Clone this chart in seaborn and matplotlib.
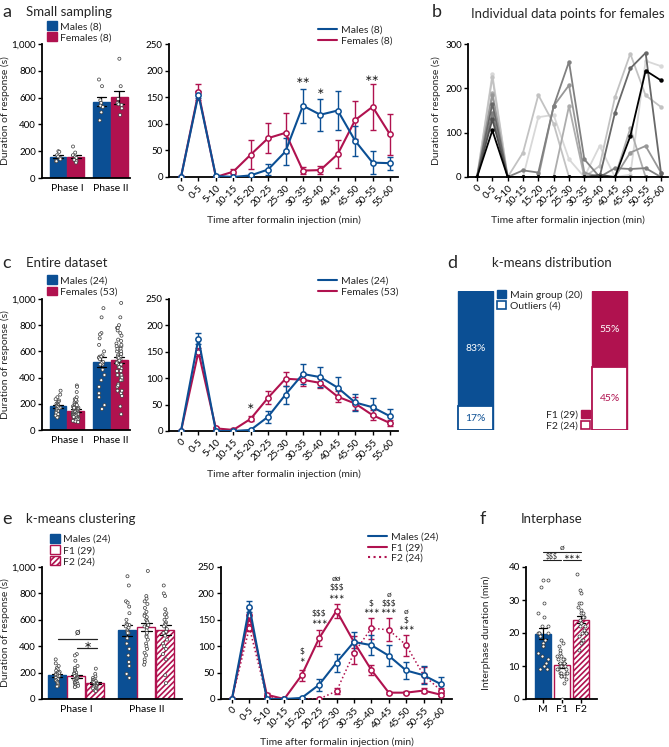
import matplotlib
matplotlib.use('Agg')
import matplotlib.pyplot as plt
from matplotlib.patches import Patch
from matplotlib.lines import Line2D
import numpy as np
import pandas as pd
import seaborn as sns

BLUE = '#0b4f94'
RED = '#b0124f'

# ---------------- data ----------------
time_bins = ['0', '0-5', '5-10', '10-15', '15-20', '20-25', '25-30',
             '30-35', '35-40', '40-45', '45-50', '50-55', '55-60']
phases = ['Phase I', 'Phase II']

# a - small sampling, bars (individual animals)
a_males_I = [200, 195, 170, 160, 150, 140, 125, 125]
a_females_I = [235, 190, 170, 160, 150, 135, 125, 115]
a_males_II = [735, 685, 580, 560, 540, 530, 490, 430]
a_females_II = [890, 685, 590, 560, 550, 545, 520, 470]

# a - small sampling, time course (mean, sem)
a_male_mean = [0, 155, 2, 0, 3, 14, 48, 134, 117, 125, 68, 27, 26]
a_male_sem = [0, 6, 2, 0, 2, 11, 26, 32, 30, 36, 28, 22, 12]
a_female_mean = [0, 159, 0, 10, 42, 73, 83, 12, 13, 43, 107, 132, 80]
a_female_sem = [0, 15, 0, 5, 27, 28, 38, 6, 8, 27, 36, 43, 38]

# b - individual females
b_females = [
    [0, 232, 0, 0, 135, 140, 40, 0, 70, 0, 5, 262, 250],
    [0, 225, 0, 55, 185, 120, 0, 0, 25, 180, 278, 184, 158],
    [0, 190, 0, 0, 0, 0, 160, 0, 0, 0, 110, 0, 0],
    [0, 185, 0, 0, 0, 160, 207, 10, 0, 0, 55, 70, 10],
    [0, 145, 0, 15, 10, 160, 260, 40, 0, 20, 18, 20, 0],
    [0, 165, 0, 0, 0, 0, 0, 0, 0, 145, 245, 280, 10],
    [0, 130, 0, 0, 0, 0, 0, 0, 5, 0, 0, 0, 0],
    [0, 105, 0, 0, 0, 0, 0, 0, 0, 0, 92, 240, 218],
]
b_shades = ['#d8d8d8', '#c2c2c2', '#adadad', '#979797', '#808080', '#686868', '#505050', '#000000']

# c / e - entire dataset, individual animals
males_I = [300, 270, 250, 235, 225, 215, 205, 200, 195, 190, 185, 180,
           175, 170, 165, 160, 150, 145, 140, 130, 120, 110, 100, 95]
males_II = [930, 860, 740, 730, 700, 650, 600, 570, 560, 560, 550, 540,
            520, 500, 510, 500, 460, 420, 380, 330, 280, 250, 190, 160]
f1_I = [340, 330, 290, 250, 235, 220, 210, 200, 195, 190, 180, 175, 170, 165, 160,
        155, 150, 145, 140, 135, 130, 125, 120, 115, 110, 105, 100, 95, 90]
f1_II = [970, 780, 760, 740, 720, 690, 660, 640, 630, 620, 600, 590, 580, 560, 550,
         540, 520, 500, 480, 470, 450, 420, 400, 380, 350, 330, 300, 280, 260]
f2_I = [230, 190, 170, 160, 150, 145, 140, 135, 130, 125, 120, 115,
        110, 105, 100, 100, 95, 90, 85, 80, 75, 70, 65, 60]
f2_II = [860, 800, 780, 680, 650, 640, 620, 600, 580, 570, 560, 550,
         530, 510, 500, 480, 450, 420, 400, 380, 340, 300, 180, 120]

# c / e - time course (mean, sem)
male_mean = [0, 175, 0, 0, 2, 27, 69, 108, 102, 82, 54, 45, 28]
male_sem = [0, 10, 0, 0, 1, 11, 17, 19, 19, 20, 17, 17, 13]
female_mean = [0, 150, 5, 2, 23, 63, 99, 97, 91, 65, 52, 30, 15]
female_sem = [0, 8, 2, 1, 5, 12, 13, 11, 9, 11, 12, 10, 6]
f1_mean = [0, 160, 8, 0, 45, 115, 167, 108, 55, 12, 12, 16, 8]
f1_sem = [0, 12, 3, 0, 10, 15, 13, 12, 10, 2, 3, 5, 3]
f2_mean = [0, 135, 3, 0, 0, 0, 15, 87, 134, 131, 102, 45, 16]
f2_sem = [0, 7, 2, 0, 0, 0, 6, 20, 20, 22, 20, 15, 5]

# d - k-means distribution (%)
d_males = {'Main group (20)': 83, 'Outliers (4)': 17}
d_females = {'F1 (29)': 55, 'F2 (24)': 45}

# f - interphase duration (min)
f_m = [36, 36, 34, 29, 26, 25, 22, 22, 20, 20, 20, 20, 19, 18, 17, 16, 16, 14, 13, 12, 11, 10, 9, 9]
f_f1 = [18, 17, 16, 15, 14, 13, 13, 12, 12, 12, 11, 11, 11, 10, 10, 10, 9, 9, 9, 8,
        8, 8, 8, 7, 7, 7, 6, 5, 0]
f_f2 = [38, 33, 32, 29, 29, 28, 27, 26, 26, 25, 25, 24, 23, 22, 22, 21, 20, 20, 20, 19, 18, 18, 17, 15]

# ---------------- figure ----------------
sns.set_theme(style='ticks')
plt.rcParams['font.family'] = ['Lato', 'DejaVu Sans']
plt.rcParams['hatch.linewidth'] = 1.2
W, H = 669, 747
fig = plt.figure(figsize=(W / 100, H / 100), dpi=100)
np.random.seed(3)

STYLES = {
    'Males': dict(fc=BLUE, ec=BLUE, hatch=None),
    'Females': dict(fc=RED, ec=RED, hatch=None),
    'F1': dict(fc='white', ec=RED, hatch=None),
    'F2': dict(fc='white', ec=RED, hatch='//////'),
}
STAR_FONT = ['DejaVu Sans']


def add_ax(x0, y0, x1, y1):
    return fig.add_axes([x0 / W, 1 - y1 / H, (x1 - x0) / W, (y1 - y0) / H])


def style(ax):
    sns.despine(ax=ax)
    for s in ['left', 'bottom']:
        ax.spines[s].set_linewidth(1.3)
        ax.spines[s].set_color('black')
    ax.tick_params(width=1, length=3, labelsize=7, pad=1.5, colors='black')
    ax.set_xlabel('')
    ax.set_ylabel('')


def long_frame(groups):
    rows = []
    for g, (p1, p2) in groups.items():
        rows += [(g, 'Phase I', v) for v in p1] + [(g, 'Phase II', v) for v in p2]
    return pd.DataFrame(rows, columns=['group', 'phase', 'value'])


def bar_panel(ax, groups, labels, jitter, legend_y):
    df = long_frame(groups)
    order = list(groups)
    sns.barplot(data=df, x='phase', y='value', hue='group', order=phases, hue_order=order,
                palette={g: STYLES[g]['fc'] for g in order}, errorbar='se', capsize=0.45,
                err_kws={'color': 'black', 'linewidth': 0.9}, saturation=1, width=0.82,
                gap=0.06, legend=False, ax=ax)
    for cont, g in zip(ax.containers, order):
        for p in cont:
            p.set_facecolor(STYLES[g]['fc'])
            p.set_edgecolor(STYLES[g]['ec'])
            p.set_linewidth(1.0)
            if STYLES[g]['hatch']:
                p.set_hatch(STYLES[g]['hatch'])
    sns.stripplot(data=df, x='phase', y='value', hue='group', order=phases, hue_order=order,
                  dodge=True, palette={g: 'white' for g in order}, edgecolor='#3a3a3a',
                  linewidth=0.5, size=2.2, jitter=jitter, legend=False, ax=ax, zorder=4)
    style(ax)
    ax.set_ylim(0, 1000)
    ax.set_yticks(range(0, 1001, 200))
    ax.set_yticklabels(['0', '200', '400', '600', '800', '1,000'])
    ax.tick_params(axis='x', length=0, labelsize=7.5, pad=4)
    ax.set_ylabel('Duration of response (s)', fontsize=7.5)
    handles = [Patch(facecolor=STYLES[g]['fc'], edgecolor=STYLES[g]['ec'],
                     hatch=STYLES[g]['hatch'], linewidth=1) for g in order]
    ax.legend(handles, labels, loc='upper left', bbox_to_anchor=(0.06, legend_y), frameon=False,
              fontsize=7.5, handlelength=0.9, handleheight=0.9, handletextpad=0.3,
              labelspacing=0.12, borderpad=0, borderaxespad=0)


def line_series(ax, mean, sem, color, ls='-', lw=1.5):
    x = np.arange(len(mean))
    ax.errorbar(x, mean, yerr=sem, fmt='none', ecolor=color, elinewidth=1, capsize=2.5,
                capthick=1, zorder=2)
    sns.lineplot(x=x, y=mean, color=color, linestyle=ls, linewidth=lw, marker='o',
                 markersize=3.8, markerfacecolor='white', markeredgecolor=color,
                 markeredgewidth=1.1, ax=ax, zorder=3)


def line_axes(ax, ymax, step, xlabel=True):
    style(ax)
    ax.set_ylim(0, ymax)
    ax.set_yticks(range(0, ymax + 1, step))
    ax.set_xticks(range(len(time_bins)))
    ax.set_xticklabels(time_bins, rotation=45, ha='right', rotation_mode='anchor', fontsize=7)
    if xlabel:
        ax.set_xlabel('Time after formalin injection (min)', fontsize=7.5, labelpad=5)


def line_legend(ax, entries, x, y):
    handles = [Line2D([], [], color=c, lw=1.5, ls=ls) for c, ls in entries.values()]
    ax.legend(handles, list(entries), loc='upper left', bbox_to_anchor=(x, y), frameon=False,
              fontsize=7.5, handlelength=1.8, handletextpad=0.4, labelspacing=0.12,
              borderpad=0, borderaxespad=0)


def stars(ax, marks, size=6, sym_size=6.5):
    for x, txt, y in marks:
        if '*' in txt:
            ax.text(x, y, txt.replace('*', '\u2217'), ha='center', va='center', fontsize=size,
                    color='#222222', family=STAR_FONT)
        else:
            ax.text(x, y, txt, ha='center', va='center', fontsize=sym_size, color='#222222')


# ---------- a ----------
ax = add_ax(42, 44, 130, 178)
bar_panel(ax, {'Males': (a_males_I, a_males_II), 'Females': (a_females_I, a_females_II)},
          ['Males (8)', 'Females (8)'], 0.13, 1.17)
ax.set_xlim(-0.57, 1.45)
ax.yaxis.set_label_coords(-0.36, 0.5)

ax = add_ax(169, 44, 398, 177)
line_series(ax, a_female_mean, a_female_sem, RED)
line_series(ax, a_male_mean, a_male_sem, BLUE)
line_axes(ax, 250, 50)
ax.set_xlim(-0.69, 12.46)
stars(ax, [(7, '**', 181), (8, '*', 160), (11, '**', 186)], size=6.5)
line_legend(ax, {'Males (8)': (BLUE, '-'), 'Females (8)': (RED, '-')}, 0.65, 1.14)

# ---------- b ----------
ax = add_ax(468, 44, 668, 177)
for vals, shade in zip(b_females, b_shades):
    sns.lineplot(x=np.arange(len(vals)), y=vals, color=shade, linewidth=1.3, marker='o',
                 markersize=3.2, markeredgewidth=0, ax=ax)
line_axes(ax, 300, 100)
ax.set_xlim(-0.59, 12.46)
ax.set_ylabel('Duration of response (s)', fontsize=7.5)
ax.yaxis.set_label_coords(-0.135, 0.5)

# ---------- c ----------
ax = add_ax(42, 299, 130, 430)
bar_panel(ax, {'Males': (males_I, males_II), 'Females': (f1_I + f2_I, f1_II + f2_II)},
          ['Males (24)', 'Females (53)'], 0.14, 1.18)
ax.set_xlim(-0.57, 1.45)
ax.yaxis.set_label_coords(-0.36, 0.5)

ax = add_ax(169, 299, 398, 431)
line_series(ax, female_mean, female_sem, RED)
line_series(ax, male_mean, male_sem, BLUE)
line_axes(ax, 250, 50)
ax.set_xlim(-0.69, 12.46)
stars(ax, [(4, '*', 46)], size=6.5)
line_legend(ax, {'Males (24)': (BLUE, '-'), 'Females (53)': (RED, '-')}, 0.65, 1.17)

# ---------- d ----------
ax = add_ax(440, 291, 669, 430)
tops = [sum(d_males.values()), sum(d_females.values())]
bottoms = [list(d_males.values())[1], list(d_females.values())[1]]
sns.barplot(x=['M', 'F'], y=tops, hue=['M', 'F'], palette=[BLUE, RED], saturation=1,
            width=0.26, legend=False, ax=ax)
sns.barplot(x=['M', 'F'], y=bottoms, color='white', saturation=1, width=0.26, ax=ax)
for p, c in zip(ax.patches[:2], [BLUE, RED]):
    p.set_edgecolor(c)
    p.set_linewidth(1)
for p, c in zip(ax.patches[2:], [BLUE, RED]):
    p.set_edgecolor(c)
    p.set_linewidth(1.3)
ax.set_xlim(-0.264, 1.44)
ax.set_ylim(0, 100)
ax.axis('off')
for i, (grp, top_c, low_c) in enumerate([(d_males, 'white', BLUE), (d_females, 'white', RED)]):
    top, low = list(grp.values())
    ax.text(i, low + top / 2, f'{top}%', ha='center', va='center', color=top_c, fontsize=7.5)
    ax.text(i, low / 2, f'{low}%', ha='center', va='center', color=low_c, fontsize=7.5)
leg1 = ax.legend([Patch(facecolor=BLUE, edgecolor=BLUE), Patch(facecolor='white', edgecolor=BLUE, linewidth=1.2)],
                 list(d_males), loc='upper left', bbox_to_anchor=((497 - 440) / 229, 1.01),
                 frameon=False, fontsize=7.5, handlelength=0.9, handleheight=0.9,
                 handletextpad=0.3, labelspacing=0.12, borderpad=0, borderaxespad=0)
ax.add_artist(leg1)
ax.legend([Patch(facecolor=RED, edgecolor=RED), Patch(facecolor='white', edgecolor=RED, linewidth=1.2)],
          list(d_females), loc='lower right', bbox_to_anchor=((590 - 440) / 229, -0.005),
          frameon=False, fontsize=7.5, handlelength=0.9, handleheight=0.9, markerfirst=False,
          handletextpad=0.3, labelspacing=0.12, borderpad=0, borderaxespad=0)

# ---------- e ----------
ax = add_ax(42, 567, 182, 699)
bar_panel(ax, {'Males': (males_I, males_II), 'F1': (f1_I, f1_II), 'F2': (f2_I, f2_II)},
          ['Males (24)', 'F1 (29)', 'F2 (24)'], 0.09, 1.25)
ax.set_xlim(-0.49, 1.51)
ax.yaxis.set_label_coords(-0.23, 0.5)
ax.plot([-0.26, 0.3], [455, 455], color='#222222', lw=0.9)
ax.plot([0.01, 0.3], [386, 386], color='#222222', lw=0.9)
ax.text(0.02, 465, 'ø', ha='center', va='bottom', fontsize=7)
stars(ax, [(0.16, '*', 408)], size=7)

ax = add_ax(221, 567, 452, 699)
line_series(ax, f2_mean, f2_sem, RED, ls=':', lw=1.1)
line_series(ax, f1_mean, f1_sem, RED)
line_series(ax, male_mean, male_sem, BLUE)
line_axes(ax, 250, 50)
ax.set_xlim(-0.63, 12.63)
stars(ax, [(4, '$', 90), (4, '*', 73), (5, '$$$', 162), (5, '***', 145),
           (6, 'øø', 228), (6, '$$$', 211), (6, '***', 194), (8, '$', 182), (8, '***', 166),
           (9, 'ø', 198), (9, '$$$', 182), (9, '***', 166), (10, 'ø', 166), (10, '$', 150),
           (10, '***', 134)], size=4.8, sym_size=6)
line_legend(ax, {'Males (24)': (BLUE, '-'), 'F1 (29)': (RED, '-'), 'F2 (24)': (RED, ':')},
            0.636, 1.26)

# ---------- f ----------
ax = add_ax(526, 567, 597, 699)
fdf = pd.DataFrame({'group': ['M'] * len(f_m) + ['F1'] * len(f_f1) + ['F2'] * len(f_f2),
                    'value': f_m + f_f1 + f_f2})
sns.barplot(data=fdf, x='group', y='value', hue='group', order=['M', 'F1', 'F2'],
            palette=[BLUE, 'white', 'white'], errorbar='se', capsize=0.45,
            err_kws={'color': 'black', 'linewidth': 0.9}, saturation=1, width=0.84,
            legend=False, ax=ax)
for p, g in zip(ax.patches, ['Males', 'F1', 'F2']):
    p.set_facecolor(STYLES[g]['fc'])
    p.set_edgecolor(STYLES[g]['ec'])
    p.set_linewidth(1)
    if STYLES[g]['hatch']:
        p.set_hatch(STYLES[g]['hatch'])
sns.stripplot(data=fdf, x='group', y='value', order=['M', 'F1', 'F2'], color='white',
              edgecolor='#3a3a3a', linewidth=0.5, size=2.2, jitter=0.28, ax=ax, zorder=4)
style(ax)
ax.set_xlim(-0.89, 2.84)
ax.set_ylim(0, 40)
ax.set_yticks(range(0, 41, 10))
ax.tick_params(axis='x', labelsize=7.5)
ax.set_ylabel('Interphase duration (min)', fontsize=7.5)
ax.yaxis.set_label_coords(-0.49, 0.5)
for xs, y in [((0, 2), 44.5), ((0, 0.95), 42), ((1.05, 2), 42)]:
    ax.plot(xs, [y, y], color='#222222', lw=0.8, clip_on=False)
ax.text(1, 44.8, 'ø', ha='center', va='bottom', fontsize=6)
ax.text(0.48, 42.2, '$$$', ha='center', va='bottom', fontsize=5)
ax.text(1.52, 43.1, '\u2217\u2217\u2217', ha='center', va='center', fontsize=5,
        family=STAR_FONT)

# ---------- panel letters & titles ----------
for x, y, t in [(2, 12, 'a'), (432, 12, 'b'), (2, 263, 'c'), (447, 263, 'd'),
                (2, 519, 'e'), (480, 519, 'f')]:
    fig.text(x / W, 1 - y / H, t, fontsize=13, va='center', ha='left')
for x, y, t, ha in [(26, 12, 'Small sampling', 'left'),
                    (568, 14, 'Individual data points for females', 'center'),
                    (26, 263, 'Entire dataset', 'left'),
                    (552, 263, 'k-means distribution', 'center'),
                    (26, 519, 'k-means clustering', 'left'),
                    (552, 519, 'Interphase', 'center')]:
    fig.text(x / W, 1 - y / H, t, fontsize=9.5, va='center', ha=ha)

fig.savefig('out.png', dpi=100)
